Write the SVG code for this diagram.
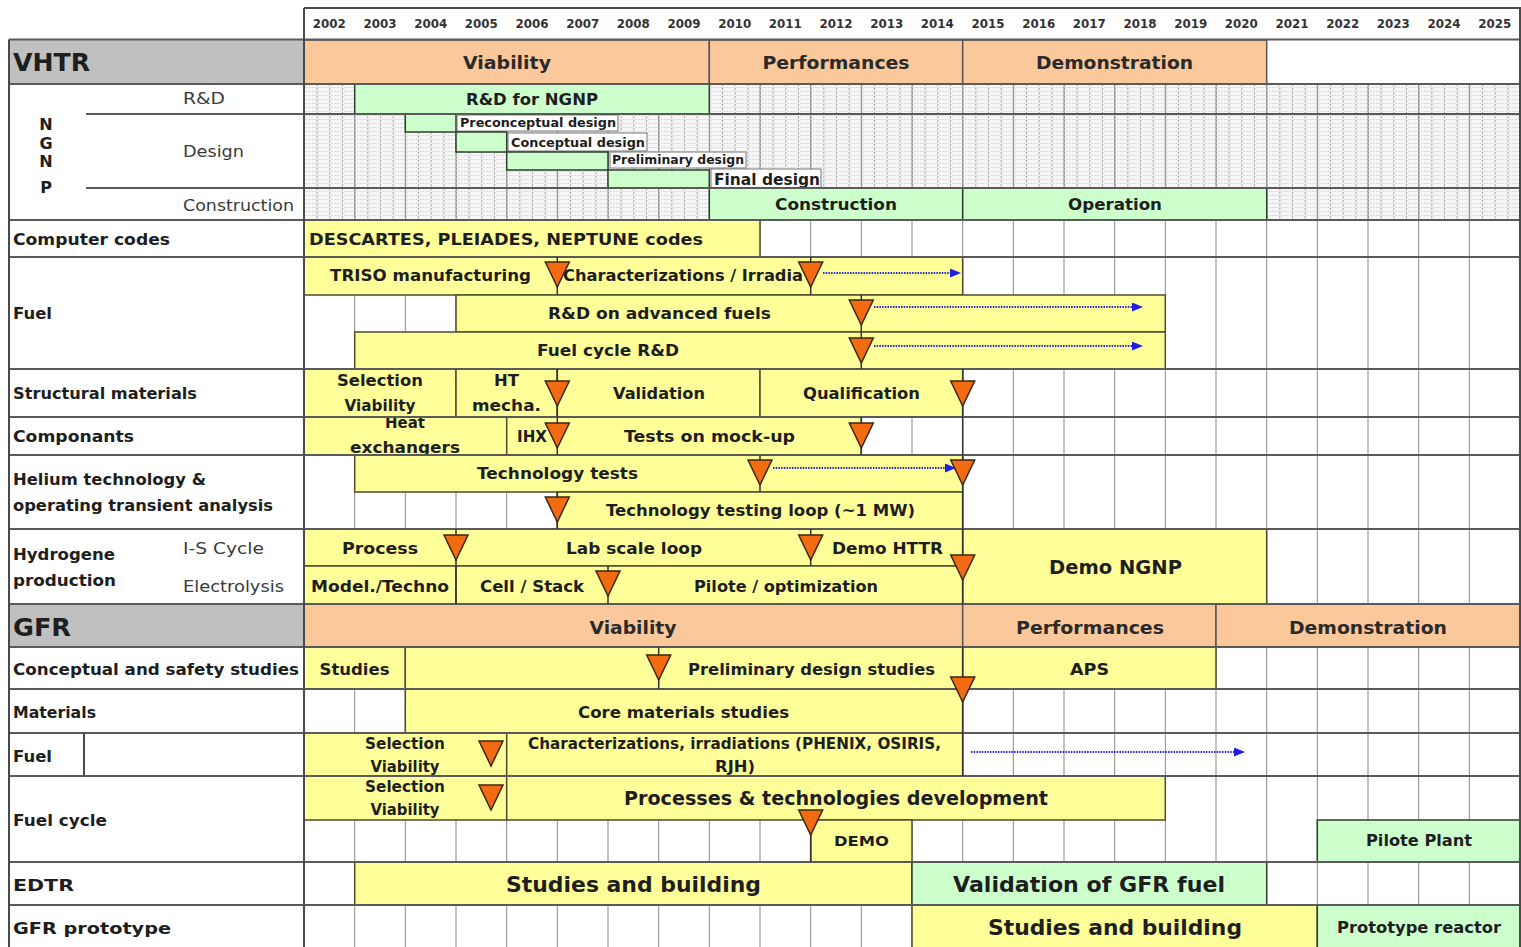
<svg xmlns="http://www.w3.org/2000/svg" xmlns:xlink="http://www.w3.org/1999/xlink" width="1521" height="947" viewBox="0 0 1521 947">
<style>
  .t { font-family: "DejaVu Sans", Verdana, "Liberation Sans", sans-serif; font-weight: bold; font-size: 16px; fill: #1e1e1e; dominant-baseline: central; text-anchor: middle; }
  .l { text-anchor: start; }
  .r { font-weight: normal; fill: #3a3a3a; }
  .yr { font-size: 12px; fill: #333; }
  .hd { font-size: 25px; }
  .ph { font-size: 18px; fill: #2a2a2a; }
  .s12 { font-size: 12px; }
  .s13 { font-size: 13px; }
  .s14 { font-size: 14px; }
  .s15 { font-size: 15px; }
  .s16 { font-size: 16px; }
  .s19 { font-size: 19px; }
  .s20 { font-size: 20px; }
  .s22 { font-size: 22px; }
  .yb { fill: #ffff99; stroke: #4d4d2e; stroke-width: 1.5; }
  .gb { fill: #ccffcc; stroke: #2e3d2e; stroke-width: 1.5; }
  .pc { fill: #fac89a; stroke: #555; stroke-width: 1.5; }
  .gc { fill: #c0c0c0; }
  .box { fill: #fff; stroke: #777; stroke-width: 1; }
  .grid { stroke: #8a8a8a; stroke-width: 1; fill: none; }
  .sep { stroke: #5a5a5a; stroke-width: 2; fill: none; }
  .frame { stroke: #4a4a4a; stroke-width: 2; fill: none; }
  .ml { stroke: #333; stroke-width: 1.5; fill: none; }
  .tri { fill: #f26b11; stroke: #3d2616; stroke-width: 1.5; stroke-linejoin: miter; }
  .arr { stroke: #2626d9; stroke-width: 1.8; stroke-dasharray: 1.5 1.2; fill: none; }
</style>
<defs>
  <pattern id="fine" patternUnits="userSpaceOnUse" x="304" y="84" width="12.667" height="4">
    <rect width="12.667" height="4" fill="#f6f6f6"/>
    <path d="M0.5 0V2.4" stroke="#a8a8a8" stroke-width="1"/>
    <path d="M2 3.5H3.2M5 3.5H6.2M8 3.5H9.2M11 3.5H12.2" stroke="#c8c8c8" stroke-width="1"/>
  </pattern>
  <path id="tri" class="tri" d="M-12 0L12 0L0 25Z"/>
  <marker id="ah" markerUnits="userSpaceOnUse" markerWidth="11" markerHeight="9" refX="0" refY="4.5" orient="auto">
    <path d="M0 0L11 4.5L0 9Z" fill="#1f1fe0"/>
  </marker>
</defs>

<rect width="1521" height="947" fill="#fff"/>

<!-- textured background of the NGNP block -->
<rect x="304" y="84" width="1216" height="136" fill="url(#fine)"/>

<!-- yearly vertical grid -->
<path class="grid" d="M354.7 84V604M405.3 84V604M456 84V604M506.7 84V604M557.3 84V604M608 84V604M658.7 84V604M709.3 84V604M760 84V604M810.7 84V604M861.3 84V604M912 84V604M962.7 84V604M1013.3 84V604M1064 84V604M1114.7 84V604M1165.3 84V604M1216 84V604M1266.7 84V604M1317.3 84V604M1368 84V604M1418.7 84V604M1469.3 84V604
 M354.7 647V947M405.3 647V947M456 647V947M506.7 647V947M557.3 647V947M608 647V947M658.7 647V947M709.3 647V947M760 647V947M810.7 647V947M861.3 647V947M912 647V947M962.7 647V947M1013.3 647V947M1064 647V947M1114.7 647V947M1165.3 647V947M1216 647V947M1266.7 647V947M1317.3 647V947M1368 647V947M1418.7 647V947M1469.3 647V947"/>

<!-- year header -->
<g id="years">
  <text class="t yr" x="329.3" y="24" textLength="33" lengthAdjust="spacingAndGlyphs">2002</text>
  <text class="t yr" x="380.0" y="24" textLength="33" lengthAdjust="spacingAndGlyphs">2003</text>
  <text class="t yr" x="430.7" y="24" textLength="33" lengthAdjust="spacingAndGlyphs">2004</text>
  <text class="t yr" x="481.3" y="24" textLength="33" lengthAdjust="spacingAndGlyphs">2005</text>
  <text class="t yr" x="532.0" y="24" textLength="33" lengthAdjust="spacingAndGlyphs">2006</text>
  <text class="t yr" x="582.7" y="24" textLength="33" lengthAdjust="spacingAndGlyphs">2007</text>
  <text class="t yr" x="633.3" y="24" textLength="33" lengthAdjust="spacingAndGlyphs">2008</text>
  <text class="t yr" x="684.0" y="24" textLength="33" lengthAdjust="spacingAndGlyphs">2009</text>
  <text class="t yr" x="734.7" y="24" textLength="33" lengthAdjust="spacingAndGlyphs">2010</text>
  <text class="t yr" x="785.3" y="24" textLength="33" lengthAdjust="spacingAndGlyphs">2011</text>
  <text class="t yr" x="836.0" y="24" textLength="33" lengthAdjust="spacingAndGlyphs">2012</text>
  <text class="t yr" x="886.7" y="24" textLength="33" lengthAdjust="spacingAndGlyphs">2013</text>
  <text class="t yr" x="937.3" y="24" textLength="33" lengthAdjust="spacingAndGlyphs">2014</text>
  <text class="t yr" x="988.0" y="24" textLength="33" lengthAdjust="spacingAndGlyphs">2015</text>
  <text class="t yr" x="1038.7" y="24" textLength="33" lengthAdjust="spacingAndGlyphs">2016</text>
  <text class="t yr" x="1089.3" y="24" textLength="33" lengthAdjust="spacingAndGlyphs">2017</text>
  <text class="t yr" x="1140.0" y="24" textLength="33" lengthAdjust="spacingAndGlyphs">2018</text>
  <text class="t yr" x="1190.7" y="24" textLength="33" lengthAdjust="spacingAndGlyphs">2019</text>
  <text class="t yr" x="1241.3" y="24" textLength="33" lengthAdjust="spacingAndGlyphs">2020</text>
  <text class="t yr" x="1292.0" y="24" textLength="33" lengthAdjust="spacingAndGlyphs">2021</text>
  <text class="t yr" x="1342.7" y="24" textLength="33" lengthAdjust="spacingAndGlyphs">2022</text>
  <text class="t yr" x="1393.3" y="24" textLength="33" lengthAdjust="spacingAndGlyphs">2023</text>
  <text class="t yr" x="1444.0" y="24" textLength="33" lengthAdjust="spacingAndGlyphs">2024</text>
  <text class="t yr" x="1494.7" y="24" textLength="33" lengthAdjust="spacingAndGlyphs">2025</text>
</g>

<!-- VHTR section header -->
<g id="vhtr-header">
  <rect class="gc" x="9" y="40" width="295" height="44"/>
  <text class="t hd l" x="13" y="62" textLength="77" lengthAdjust="spacingAndGlyphs">VHTR</text>
  <rect class="pc" x="304" y="40" width="405.3" height="44"/>
  <text class="t ph" x="507" y="62" textLength="88" lengthAdjust="spacingAndGlyphs">Viability</text>
  <rect class="pc" x="709.3" y="40" width="253.4" height="44"/>
  <text class="t ph" x="836" y="62" textLength="147" lengthAdjust="spacingAndGlyphs">Performances</text>
  <rect class="pc" x="962.7" y="40" width="304" height="44"/>
  <text class="t ph" x="1114.5" y="62" textLength="157" lengthAdjust="spacingAndGlyphs">Demonstration</text>
</g>

<!-- left column labels -->
<g id="labels">
  <text class="t s16" x="46" y="124">N</text>
  <text class="t s16" x="46" y="143">G</text>
  <text class="t s16" x="46" y="161">N</text>
  <text class="t s16" x="46" y="187">P</text>
  <text class="t r l" x="183" y="98" textLength="42" lengthAdjust="spacingAndGlyphs">R&amp;D</text>
  <text class="t r l" x="183" y="151" textLength="61" lengthAdjust="spacingAndGlyphs">Design</text>
  <text class="t r l" x="183" y="205" textLength="111" lengthAdjust="spacingAndGlyphs">Construction</text>
  <text class="t l" x="13" y="239" textLength="157" lengthAdjust="spacingAndGlyphs">Computer codes</text>
  <text class="t l" x="13" y="313" textLength="39" lengthAdjust="spacingAndGlyphs">Fuel</text>
  <text class="t l" x="13" y="393" textLength="184" lengthAdjust="spacingAndGlyphs">Structural materials</text>
  <text class="t l" x="13" y="436" textLength="121" lengthAdjust="spacingAndGlyphs">Componants</text>
  <text class="t l" x="13" y="479" textLength="193" lengthAdjust="spacingAndGlyphs">Helium technology &amp;</text>
  <text class="t l" x="13" y="505" textLength="260" lengthAdjust="spacingAndGlyphs">operating transient analysis</text>
  <text class="t l" x="13" y="554" textLength="102" lengthAdjust="spacingAndGlyphs">Hydrogene</text>
  <text class="t l" x="13" y="580" textLength="103" lengthAdjust="spacingAndGlyphs">production</text>
  <text class="t r l" x="183" y="548" textLength="81" lengthAdjust="spacingAndGlyphs">I-S Cycle</text>
  <text class="t r l" x="183" y="586" textLength="101" lengthAdjust="spacingAndGlyphs">Electrolysis</text>
  <text class="t l" x="13" y="669" textLength="286" lengthAdjust="spacingAndGlyphs">Conceptual and safety studies</text>
  <text class="t l" x="13" y="712" textLength="83" lengthAdjust="spacingAndGlyphs">Materials</text>
  <text class="t l" x="13" y="756" textLength="39" lengthAdjust="spacingAndGlyphs">Fuel</text>
  <text class="t l" x="13" y="820" textLength="94" lengthAdjust="spacingAndGlyphs">Fuel cycle</text>
  <text class="t l" x="13" y="885" textLength="61" lengthAdjust="spacingAndGlyphs">EDTR</text>
  <text class="t l" x="13" y="928" textLength="158" lengthAdjust="spacingAndGlyphs">GFR prototype</text>
</g>

<!-- NGNP bars -->
<g id="ngnp-rd">
  <rect class="gb" x="354.7" y="84" width="354.6" height="30"/>
  <text class="t" x="532" y="99" textLength="132" lengthAdjust="spacingAndGlyphs">R&amp;D for NGNP</text>
</g>
<g id="ngnp-preconceptual">
  <rect class="gb" x="405.3" y="114" width="50.7" height="18"/>
  <rect class="box" x="457" y="115" width="161" height="16"/>
  <text class="t s12 l" x="460" y="123" textLength="156" lengthAdjust="spacingAndGlyphs">Preconceptual design</text>
</g>
<g id="ngnp-conceptual">
  <rect class="gb" x="456" y="132" width="50.7" height="20"/>
  <rect class="box" x="508" y="133" width="139" height="18"/>
  <text class="t s13 l" x="511" y="142" textLength="134" lengthAdjust="spacingAndGlyphs">Conceptual design</text>
</g>
<g id="ngnp-preliminary">
  <rect class="gb" x="506.7" y="152" width="101.3" height="18"/>
  <rect class="box" x="610" y="152" width="136" height="16"/>
  <text class="t s12 l" x="612" y="160" textLength="132" lengthAdjust="spacingAndGlyphs">Preliminary design</text>
</g>
<g id="ngnp-final">
  <rect class="gb" x="608" y="170" width="101.3" height="18"/>
  <rect class="box" x="711" y="169" width="110" height="20"/>
  <text class="t s15 l" x="714" y="180" textLength="106" lengthAdjust="spacingAndGlyphs">Final design</text>
</g>
<g id="ngnp-construction">
  <rect class="gb" x="709.3" y="188" width="253.4" height="32"/>
  <text class="t" x="836" y="204" textLength="122" lengthAdjust="spacingAndGlyphs">Construction</text>
</g>
<g id="ngnp-operation">
  <rect class="gb" x="962.7" y="188" width="304" height="32"/>
  <text class="t" x="1115" y="204" textLength="94" lengthAdjust="spacingAndGlyphs">Operation</text>
</g>

<!-- computer codes -->
<g id="codes">
  <rect class="yb" x="304" y="220" width="456" height="37"/>
  <text class="t l" x="309" y="239" textLength="394" lengthAdjust="spacingAndGlyphs">DESCARTES, PLEIADES, NEPTUNE codes</text>
</g>

<!-- VHTR fuel -->
<g id="fuel-triso">
  <rect class="yb" x="304" y="257" width="658.7" height="38"/>
  <text class="t" x="430.5" y="275" textLength="201" lengthAdjust="spacingAndGlyphs">TRISO manufacturing</text>
  <text class="t l" x="563" y="275" textLength="240" lengthAdjust="spacingAndGlyphs">Characterizations / Irradia</text>
</g>
<g id="fuel-advanced">
  <rect class="yb" x="456" y="295" width="709.3" height="37"/>
  <text class="t" x="659.5" y="313" textLength="223" lengthAdjust="spacingAndGlyphs">R&amp;D on advanced fuels</text>
</g>
<g id="fuel-cycle-rd">
  <rect class="yb" x="354.7" y="332" width="810.6" height="37"/>
  <text class="t" x="608" y="350" textLength="142" lengthAdjust="spacingAndGlyphs">Fuel cycle R&amp;D</text>
</g>

<!-- structural materials -->
<g id="struct-selection">
  <rect class="yb" x="304" y="369" width="152" height="48"/>
  <text class="t s15" x="380" y="381" textLength="86" lengthAdjust="spacingAndGlyphs">Selection</text>
  <text class="t s15" x="380" y="406" textLength="71" lengthAdjust="spacingAndGlyphs">Viability</text>
</g>
<g id="struct-ht">
  <rect class="yb" x="456" y="369" width="101.3" height="48"/>
  <text class="t s15" x="506.5" y="381" textLength="25" lengthAdjust="spacingAndGlyphs">HT</text>
  <text class="t s15" x="506.5" y="406" textLength="69" lengthAdjust="spacingAndGlyphs">mecha.</text>
</g>
<g id="struct-validation">
  <rect class="yb" x="557.3" y="369" width="202.7" height="48"/>
  <text class="t" x="659" y="393" textLength="92" lengthAdjust="spacingAndGlyphs">Validation</text>
</g>
<g id="struct-qualification">
  <rect class="yb" x="760" y="369" width="202.7" height="48"/>
  <text class="t" x="861.5" y="393" textLength="117" lengthAdjust="spacingAndGlyphs">Qualification</text>
</g>

<!-- components -->
<g id="comp-heat">
  <rect class="yb" x="304" y="417" width="202.7" height="38"/>
  <text class="t s15" x="405" y="423" textLength="40" lengthAdjust="spacingAndGlyphs">Heat</text>
  <text class="t s15" x="405" y="448" textLength="110" lengthAdjust="spacingAndGlyphs">exchangers</text>
</g>
<g id="comp-ihx">
  <rect class="yb" x="506.7" y="417" width="354.6" height="38"/>
  <text class="t" x="532" y="436" textLength="30" lengthAdjust="spacingAndGlyphs">IHX</text>
  <text class="t" x="709.5" y="436" textLength="171" lengthAdjust="spacingAndGlyphs">Tests on mock-up</text>
</g>

<!-- helium technology -->
<g id="he-tests">
  <rect class="yb" x="354.7" y="455" width="608" height="37"/>
  <text class="t" x="557.5" y="473" textLength="161" lengthAdjust="spacingAndGlyphs">Technology tests</text>
</g>
<g id="he-loop">
  <rect class="yb" x="557.3" y="492" width="405.4" height="37"/>
  <text class="t" x="760.5" y="510" textLength="309" lengthAdjust="spacingAndGlyphs">Technology testing loop (~1 MW)</text>
</g>

<!-- hydrogen production -->
<g id="h2-is">
  <rect class="yb" x="304" y="529" width="658.7" height="37"/>
  <text class="t" x="380" y="548" textLength="76" lengthAdjust="spacingAndGlyphs">Process</text>
  <text class="t" x="634" y="548" textLength="136" lengthAdjust="spacingAndGlyphs">Lab scale loop</text>
  <text class="t" x="887.5" y="548" textLength="111" lengthAdjust="spacingAndGlyphs">Demo HTTR</text>
</g>
<g id="h2-model">
  <rect class="yb" x="304" y="566" width="152" height="38"/>
  <text class="t" x="380" y="586" textLength="138" lengthAdjust="spacingAndGlyphs">Model./Techno</text>
</g>
<g id="h2-cell">
  <rect class="yb" x="456" y="566" width="506.7" height="38"/>
  <text class="t" x="532" y="586" textLength="104" lengthAdjust="spacingAndGlyphs">Cell / Stack</text>
  <text class="t" x="786" y="586" textLength="184" lengthAdjust="spacingAndGlyphs">Pilote / optimization</text>
</g>
<g id="h2-demo">
  <rect class="yb" x="962.7" y="529" width="304" height="75"/>
  <text class="t s20" x="1115.5" y="567" textLength="133" lengthAdjust="spacingAndGlyphs">Demo NGNP</text>
</g>

<!-- GFR section header -->
<g id="gfr-header">
  <rect class="gc" x="9" y="604" width="295" height="43"/>
  <text class="t hd l" x="13" y="627" textLength="58" lengthAdjust="spacingAndGlyphs">GFR</text>
  <rect class="pc" x="304" y="604" width="658.7" height="43"/>
  <text class="t ph" x="633" y="627" textLength="87" lengthAdjust="spacingAndGlyphs">Viability</text>
  <rect class="pc" x="962.7" y="604" width="253.3" height="43"/>
  <text class="t ph" x="1090" y="627" textLength="148" lengthAdjust="spacingAndGlyphs">Performances</text>
  <rect class="pc" x="1216" y="604" width="304" height="43"/>
  <text class="t ph" x="1368" y="627" textLength="158" lengthAdjust="spacingAndGlyphs">Demonstration</text>
</g>

<!-- conceptual and safety studies -->
<g id="gfr-studies">
  <rect class="yb" x="304" y="647" width="101.3" height="42"/>
  <text class="t" x="354.5" y="669" textLength="70" lengthAdjust="spacingAndGlyphs">Studies</text>
</g>
<g id="gfr-preliminary">
  <rect class="yb" x="405.3" y="647" width="557.4" height="42"/>
  <text class="t" x="811.5" y="669" textLength="247" lengthAdjust="spacingAndGlyphs">Preliminary design studies</text>
</g>
<g id="gfr-aps">
  <rect class="yb" x="962.7" y="647" width="253.3" height="42"/>
  <text class="t" x="1089.5" y="669" textLength="39" lengthAdjust="spacingAndGlyphs">APS</text>
</g>

<!-- materials -->
<g id="gfr-materials">
  <rect class="yb" x="405.3" y="689" width="557.4" height="44"/>
  <text class="t" x="683.5" y="712" textLength="211" lengthAdjust="spacingAndGlyphs">Core materials studies</text>
</g>

<!-- GFR fuel -->
<g id="gfr-fuel-selection">
  <rect class="yb" x="304" y="733" width="202.7" height="43"/>
  <text class="t s15" x="405" y="744" textLength="80" lengthAdjust="spacingAndGlyphs">Selection</text>
  <text class="t s15" x="405" y="767" textLength="69" lengthAdjust="spacingAndGlyphs">Viability</text>
</g>
<g id="gfr-fuel-irradiation">
  <rect class="yb" x="506.7" y="733" width="456" height="43"/>
  <text class="t s15" x="734.5" y="744" textLength="413" lengthAdjust="spacingAndGlyphs">Characterizations, irradiations (PHENIX, OSIRIS,</text>
  <text class="t s15" x="735" y="767" textLength="40" lengthAdjust="spacingAndGlyphs">RJH)</text>
</g>

<!-- fuel cycle -->
<g id="fc-selection">
  <rect class="yb" x="304" y="776" width="202.7" height="44"/>
  <text class="t s15" x="405" y="787" textLength="80" lengthAdjust="spacingAndGlyphs">Selection</text>
  <text class="t s15" x="405" y="810" textLength="69" lengthAdjust="spacingAndGlyphs">Viability</text>
</g>
<g id="fc-processes">
  <rect class="yb" x="506.7" y="776" width="658.6" height="44"/>
  <text class="t s19" x="836" y="798" textLength="424" lengthAdjust="spacingAndGlyphs">Processes &amp; technologies development</text>
</g>
<g id="fc-demo">
  <rect class="yb" x="810.7" y="820" width="101.3" height="42"/>
  <text class="t s14" x="861.5" y="841" textLength="55" lengthAdjust="spacingAndGlyphs">DEMO</text>
</g>
<g id="fc-pilot">
  <rect class="gb" x="1317.3" y="820" width="202.7" height="42"/>
  <text class="t s15" x="1419" y="841" textLength="106" lengthAdjust="spacingAndGlyphs">Pilote Plant</text>
</g>

<!-- EDTR -->
<g id="edtr-building">
  <rect class="yb" x="354.7" y="862" width="557.3" height="43"/>
  <text class="t s22" x="633.5" y="884" textLength="255" lengthAdjust="spacingAndGlyphs">Studies and building</text>
</g>
<g id="edtr-validation">
  <rect class="gb" x="912" y="862" width="354.7" height="43"/>
  <text class="t s22" x="1089" y="884" textLength="272" lengthAdjust="spacingAndGlyphs">Validation of GFR fuel</text>
</g>

<!-- GFR prototype -->
<g id="proto-building">
  <rect class="yb" x="912" y="905" width="405.3" height="43"/>
  <text class="t s22" x="1115" y="927" textLength="254" lengthAdjust="spacingAndGlyphs">Studies and building</text>
</g>
<g id="proto-reactor">
  <rect class="gb" x="1317.3" y="905" width="202.7" height="43"/>
  <text class="t" x="1419" y="927" textLength="164" lengthAdjust="spacingAndGlyphs">Prototype reactor</text>
</g>

<!-- row separators and frame -->
<g id="table-lines">
  <path class="sep" d="M9 39.5H1520M9 84H1520M86 114H1520M86 188H1520M9 220H1520M9 257H1520M9 369H1520M9 417H1520M9 455H1520M9 529H1520M9 604H1520M9 647H1520M9 689H1520M9 733H1520M9 776H1520M9 862H1520M9 905H1520"/>
  <path class="frame" d="M304 8H1520V947M304 8V947M9 39.5V947M84 733V776"/>
</g>

<!-- milestones -->
<g id="milestones">
  <path class="ml" d="M557.3 257V295M557.3 369V455M557.3 492V529M810.7 257V295M810.7 529V566M810.7 810V862M861.3 295V369M861.3 417V455M760 455V492M962.7 369V604M962.7 647V776M456 529V604M608 566V604M658.7 647V689"/>
  <use xlink:href="#tri" href="#tri" x="557.3" y="262"/>
  <use xlink:href="#tri" href="#tri" x="810.7" y="262"/>
  <use xlink:href="#tri" href="#tri" x="861.3" y="300"/>
  <use xlink:href="#tri" href="#tri" x="861.3" y="338"/>
  <use xlink:href="#tri" href="#tri" x="557.3" y="381"/>
  <use xlink:href="#tri" href="#tri" x="962.7" y="381"/>
  <use xlink:href="#tri" href="#tri" x="557.3" y="423"/>
  <use xlink:href="#tri" href="#tri" x="861.3" y="423"/>
  <use xlink:href="#tri" href="#tri" x="760" y="460"/>
  <use xlink:href="#tri" href="#tri" x="962.7" y="460"/>
  <use xlink:href="#tri" href="#tri" x="557.3" y="497"/>
  <use xlink:href="#tri" href="#tri" x="456" y="535"/>
  <use xlink:href="#tri" href="#tri" x="810.7" y="535"/>
  <use xlink:href="#tri" href="#tri" x="962.7" y="555"/>
  <use xlink:href="#tri" href="#tri" x="608" y="571"/>
  <use xlink:href="#tri" href="#tri" x="658.7" y="655"/>
  <use xlink:href="#tri" href="#tri" x="962.7" y="677"/>
  <use xlink:href="#tri" href="#tri" x="491" y="741"/>
  <use xlink:href="#tri" href="#tri" x="491" y="785"/>
  <use xlink:href="#tri" href="#tri" x="810.7" y="810"/>
</g>

<!-- dotted continuation arrows -->
<g id="connectors">
  <path class="arr" d="M823 273H950" marker-end="url(#ah)"/>
  <path class="arr" d="M874 307H1132" marker-end="url(#ah)"/>
  <path class="arr" d="M874 346H1132" marker-end="url(#ah)"/>
  <path class="arr" d="M773 468H945" marker-end="url(#ah)"/>
  <path class="arr" d="M971 752H1234" marker-end="url(#ah)"/>
</g>
</svg>
